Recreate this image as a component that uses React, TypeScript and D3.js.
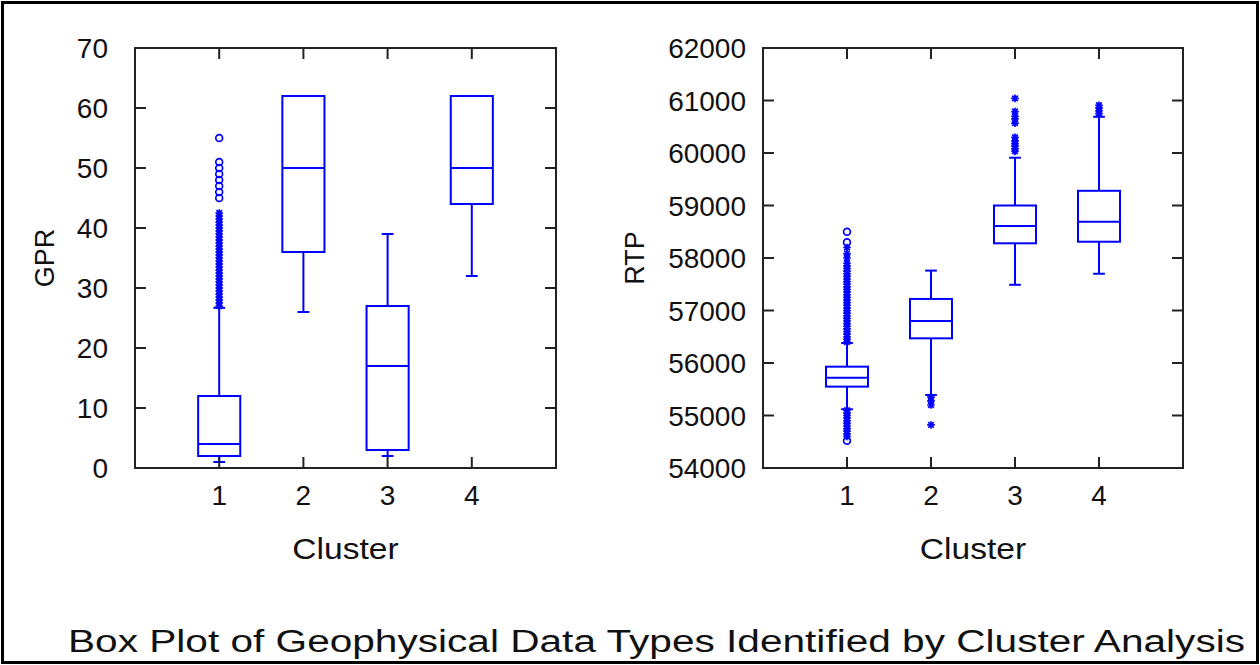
import React from "react";
import * as d3 from "d3";

// ---------- data ----------
const clusters = [1, 2, 3, 4];

// GPR panel
const gprTicks = [0, 10, 20, 30, 40, 50, 60, 70];
const gprWhiskerLow = [1, 26, 2, 32];
const gprQ1 = [2, 36, 3, 44];
const gprMedian = [4, 50, 17, 50];
const gprQ3 = [12, 62, 27, 62];
const gprWhiskerHigh = [26.7, 62, 39, 62];
// outliers: [cluster, value]
const gprStarOutliers: [number, number][] = [
  [1, 27], [1, 27.5], [1, 28], [1, 28.5], [1, 29], [1, 29.5], [1, 30], [1, 30.5],
  [1, 31], [1, 31.5], [1, 32], [1, 32.5], [1, 33], [1, 33.5], [1, 34], [1, 34.5],
  [1, 35], [1, 35.5], [1, 36], [1, 36.5], [1, 37], [1, 37.5], [1, 38], [1, 38.5],
  [1, 39], [1, 39.5], [1, 40], [1, 40.5], [1, 41], [1, 41.5], [1, 42], [1, 42.5],
];
const gprCircleOutliers: [number, number][] = [
  [1, 45], [1, 46], [1, 47], [1, 48], [1, 49], [1, 50], [1, 51], [1, 55],
];

// RTP panel
const rtpTicks = [54000, 55000, 56000, 57000, 58000, 59000, 60000, 61000, 62000];
const rtpWhiskerLow = [55120, 55390, 57490, 57700];
const rtpQ1 = [55550, 56470, 58280, 58310];
const rtpMedian = [55720, 56800, 58610, 58690];
const rtpQ3 = [55930, 57220, 59000, 59280];
const rtpWhiskerHigh = [56380, 57760, 59910, 60690];
const rtpStarOutliers: [number, number][] = [
  [1, 56400], [1, 56450], [1, 56500], [1, 56550], [1, 56600], [1, 56650], [1, 56700],
  [1, 56750], [1, 56800], [1, 56850], [1, 56900], [1, 56950], [1, 57000], [1, 57050],
  [1, 57100], [1, 57150], [1, 57200], [1, 57250], [1, 57300], [1, 57350], [1, 57400],
  [1, 57450], [1, 57500], [1, 57550], [1, 57600], [1, 57650], [1, 57700], [1, 57750],
  [1, 57800], [1, 57850], [1, 57900], [1, 58000], [1, 58080], [1, 58200],
  [1, 55100], [1, 55050], [1, 55000], [1, 54950], [1, 54900], [1, 54850], [1, 54800],
  [1, 54750], [1, 54700], [1, 54650], [1, 54600],
  [2, 55350], [2, 55280], [2, 55200], [2, 54820],
  [3, 60030], [3, 60080], [3, 60130], [3, 60180], [3, 60230], [3, 60300],
  [3, 60570], [3, 60650], [3, 60700], [3, 60790], [3, 61040],
  [4, 60750], [4, 60800], [4, 60860], [4, 60910],
];
const rtpCircleOutliers: [number, number][] = [
  [1, 58300], [1, 58500], [1, 54520],
];

const titleText = "Box Plot of Geophysical Data Types Identified by Cluster Analysis";
const xLabel = "Cluster";

// ---------- styles ----------
const BLUE = "#0000ff";
const AXIS = "#222";
const FONT = "'Liberation Sans', Arial, Helvetica, sans-serif";

type PanelProps = {
  left: number; right: number; top: number; bottom: number;
  domain: [number, number];
  ticks: number[];
  lo: number[]; q1: number[]; med: number[]; q3: number[]; hi: number[];
  stars: [number, number][];
  circles: [number, number][];
  yLabel: string; yLabelX: number; tickLabelX: number;
};

function Star({ x, y }: { x: number; y: number }) {
  const s = 3.8, d = 2.8;
  return (
    <path
      d={`M${x - s},${y}H${x + s}M${x},${y - s}V${y + s}M${x - d},${y - d}L${x + d},${y + d}M${x - d},${y + d}L${x + d},${y - d}`}
      stroke={BLUE} strokeWidth={1.7} fill="none"
    />
  );
}

function Panel(p: PanelProps) {
  const x = d3.scaleLinear().domain([0, clusters.length + 1]).range([p.left, p.right]);
  const y = d3.scaleLinear().domain(p.domain).range([p.bottom, p.top]);
  const unit = x(1) - x(0);
  const boxHalf = unit * 0.25;
  const capHalf = unit * 0.07;
  const tickLen = 11;
  return (
    <g>
      {clusters.map((c, i) => {
        const cx = x(c);
        return (
          <g key={c} stroke={BLUE} strokeWidth={2} fill="none">
            <rect x={cx - boxHalf} y={y(p.q3[i])} width={boxHalf * 2} height={y(p.q1[i]) - y(p.q3[i])} />
            <line x1={cx - boxHalf} x2={cx + boxHalf} y1={y(p.med[i])} y2={y(p.med[i])} />
            {p.hi[i] > p.q3[i] && (
              <>
                <line x1={cx} x2={cx} y1={y(p.q3[i])} y2={y(p.hi[i])} />
                <line x1={cx - capHalf} x2={cx + capHalf} y1={y(p.hi[i])} y2={y(p.hi[i])} />
              </>
            )}
            {p.lo[i] < p.q1[i] && (
              <>
                <line x1={cx} x2={cx} y1={y(p.q1[i])} y2={y(p.lo[i])} />
                <line x1={cx - capHalf} x2={cx + capHalf} y1={y(p.lo[i])} y2={y(p.lo[i])} />
              </>
            )}
          </g>
        );
      })}
      {p.stars.map(([c, v], k) => (
        <Star key={"s" + k} x={x(c)} y={y(v)} />
      ))}
      {p.circles.map(([c, v], k) => (
        <circle key={"c" + k} cx={x(c)} cy={y(v)} r={3.4} stroke={BLUE} strokeWidth={1.7} fill="none" />
      ))}
      <rect x={p.left} y={p.top} width={p.right - p.left} height={p.bottom - p.top}
        fill="none" stroke={AXIS} strokeWidth={2} />
      {p.ticks.map((t) => (
        <g key={"y" + t}>
          <line x1={p.left} x2={p.left + tickLen} y1={y(t)} y2={y(t)} stroke={AXIS} strokeWidth={2} />
          <line x1={p.right} x2={p.right - tickLen} y1={y(t)} y2={y(t)} stroke={AXIS} strokeWidth={2} />
          <text x={p.tickLabelX} y={y(t)} dy="0.36em" textAnchor="end" fontSize={28}
            fontFamily={FONT} fill="#111">{t}</text>
        </g>
      ))}
      {clusters.map((c) => (
        <g key={"x" + c}>
          <line x1={x(c)} x2={x(c)} y1={p.bottom} y2={p.bottom - tickLen} stroke={AXIS} strokeWidth={2} />
          <line x1={x(c)} x2={x(c)} y1={p.top} y2={p.top + tickLen} stroke={AXIS} strokeWidth={2} />
          <text x={x(c)} y={p.bottom + 37} textAnchor="middle" fontSize={28}
            fontFamily={FONT} fill="#111">{c}</text>
        </g>
      ))}
      <text transform={`translate(${(p.left + p.right) / 2},${p.bottom + 91}) scale(1.12,1)`}
        textAnchor="middle" fontSize={30} fontFamily={FONT} fill="#111">{xLabel}</text>
      <text transform={`translate(${p.yLabelX},${(p.top + p.bottom) / 2}) rotate(-90)`}
        textAnchor="middle" fontSize={27} fontFamily={FONT} fill="#111">{p.yLabel}</text>
    </g>
  );
}

export default function App() {
  return (
    <svg width={1260} height={665} style={{ position: "absolute", left: 0, top: 0, background: "#fff" }}>
      <rect x={0} y={0} width={1260} height={665} fill="#fff" />
      <rect x={2.5} y={2.5} width={1255} height={660} fill="none" stroke="#000" strokeWidth={3} />
      <Panel left={135} right={556} top={48} bottom={468} domain={[0, 70]} ticks={gprTicks}
        lo={gprWhiskerLow} q1={gprQ1} med={gprMedian} q3={gprQ3} hi={gprWhiskerHigh}
        stars={gprStarOutliers} circles={gprCircleOutliers}
        yLabel="GPR" yLabelX={54} tickLabelX={108} />
      <Panel left={763} right={1183} top={48} bottom={468} domain={[54000, 62000]} ticks={rtpTicks}
        lo={rtpWhiskerLow} q1={rtpQ1} med={rtpMedian} q3={rtpQ3} hi={rtpWhiskerHigh}
        stars={rtpStarOutliers} circles={rtpCircleOutliers}
        yLabel="RTP" yLabelX={644} tickLabelX={746} />
      <text transform="translate(68,652) scale(1.31,1)" fontSize={31} fontFamily={FONT} fill="#111">
        {titleText}
      </text>
    </svg>
  );
}
